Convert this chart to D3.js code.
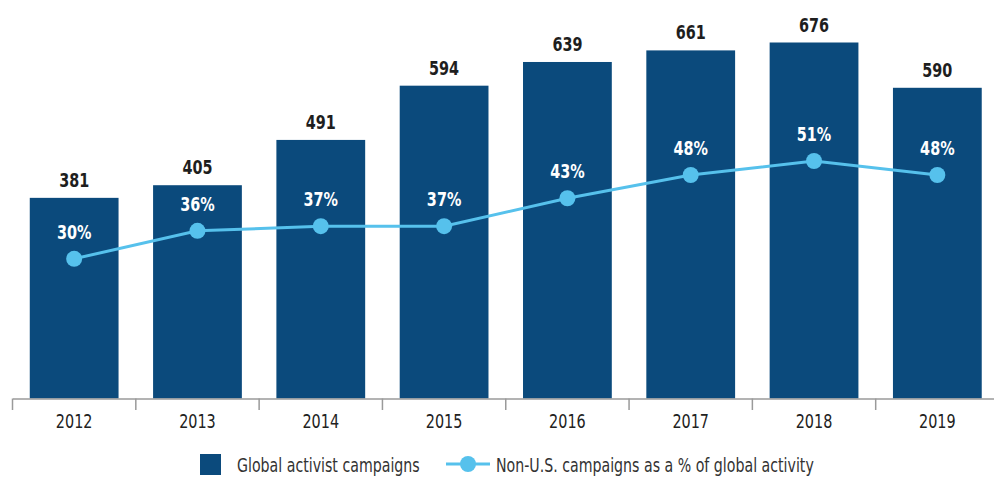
<!DOCTYPE html>
<html>
<head>
<meta charset="utf-8">
<script src="https://cdn.jsdelivr.net/npm/d3@7"></script>
<style>
  html, body { margin: 0; padding: 0; background: #fff; }
  svg { display: block; font-family: "DejaVu Sans Condensed", "Liberation Sans Narrow", sans-serif; }
</style>
</head>
<body>
<svg id="chart" width="994" height="477"></svg>
<script>
// Activist campaign counts by year and the non-U.S. share
const years = ["2012", "2013", "2014", "2015", "2016", "2017", "2018", "2019"];
const campaigns = [381, 405, 491, 594, 639, 661, 676, 590];
const nonUsShare = [30, 36, 37, 37, 43, 48, 51, 48];
const legendLabels = ["Global activist campaigns", "Non-U.S. campaigns as a % of global activity"];

const barColor = "#0b4a7c";
const lineColor = "#56c1ec";
const narrow = 0.8; // horizontal squeeze for a condensed look
const fontSize = 20;

const svg = d3.select("#chart");

const x = d3.scaleBand()
  .domain(years)
  .range([12.5, 999])
  .paddingInner(0.28)
  .paddingOuter(0.14);
const cx = d => x(d) + x.bandwidth() / 2;

const yCount = d3.scaleLinear().domain([0, 676]).range([398.5, 42.5]);
const yPct = d3.scaleLinear().domain([0, 51]).range([398.5, 161]);

const place = (px, py) => `translate(${px},${py}) scale(${narrow},1)`;

// Bars
svg.append("g").selectAll("rect")
  .data(years)
  .join("rect")
  .attr("x", d => x(d))
  .attr("width", x.bandwidth())
  .attr("y", (d, i) => yCount(campaigns[i]))
  .attr("height", (d, i) => yCount(0) - yCount(campaigns[i]))
  .attr("fill", barColor);

// Bar value labels
svg.append("g").selectAll("text")
  .data(years)
  .join("text")
  .attr("transform", (d, i) => place(cx(d), yCount(campaigns[i]) - 11))
  .attr("text-anchor", "middle")
  .attr("font-size", fontSize)
  .attr("font-weight", "bold")
  .attr("fill", "#1e1e1e")
  .text((d, i) => campaigns[i]);

// X axis
const axis = d3.axisBottom(x).tickSize(0).tickPadding(15.5);
const gx = svg.append("g").attr("transform", "translate(0,398.5)").call(axis);
gx.select(".domain").attr("stroke", "#9a9a9a").attr("stroke-width", 1.5);
gx.selectAll(".tick text")
  .attr("font-size", fontSize)
  .attr("fill", "#222")
  .attr("font-family", "\"DejaVu Sans Condensed\", sans-serif")
  .attr("transform", `scale(${narrow},1)`);
// Separators between the year bands
const edges = years.map(d => x(d) - x.step() * x.paddingInner() / 2);
edges[0] = x.range()[0];
svg.append("g").selectAll("line")
  .data(edges)
  .join("line")
  .attr("x1", d => d).attr("x2", d => d)
  .attr("y1", 398.5).attr("y2", 410)
  .attr("stroke", "#9a9a9a").attr("stroke-width", 1.5);

// Share line
const line = d3.line()
  .x((d, i) => cx(years[i]))
  .y(d => yPct(d));
svg.append("path")
  .datum(nonUsShare)
  .attr("d", line)
  .attr("fill", "none")
  .attr("stroke", lineColor)
  .attr("stroke-width", 3);

svg.append("g").selectAll("circle")
  .data(nonUsShare)
  .join("circle")
  .attr("cx", (d, i) => cx(years[i]))
  .attr("cy", d => yPct(d))
  .attr("r", 8)
  .attr("fill", lineColor);

svg.append("g").selectAll("text")
  .data(nonUsShare)
  .join("text")
  .attr("transform", (d, i) => place(cx(years[i]), yPct(d) - 20))
  .attr("text-anchor", "middle")
  .attr("font-size", fontSize)
  .attr("font-weight", "bold")
  .attr("fill", "#fff")
  .text(d => d + "%");

// Legend
const lg = svg.append("g").attr("font-size", 19).attr("fill", "#333");
lg.append("rect").attr("x", 200).attr("y", 454).attr("width", 21).attr("height", 21).attr("fill", barColor);
lg.append("text").attr("transform", `translate(237,472) scale(0.83,1)`).text(legendLabels[0]);
lg.append("line").attr("x1", 446).attr("x2", 490).attr("y1", 464).attr("y2", 464)
  .attr("stroke", lineColor).attr("stroke-width", 3);
lg.append("circle").attr("cx", 468).attr("cy", 464).attr("r", 8).attr("fill", lineColor);
lg.append("text").attr("transform", `translate(496,472) scale(0.83,1)`).text(legendLabels[1]);
</script>
</body>
</html>
